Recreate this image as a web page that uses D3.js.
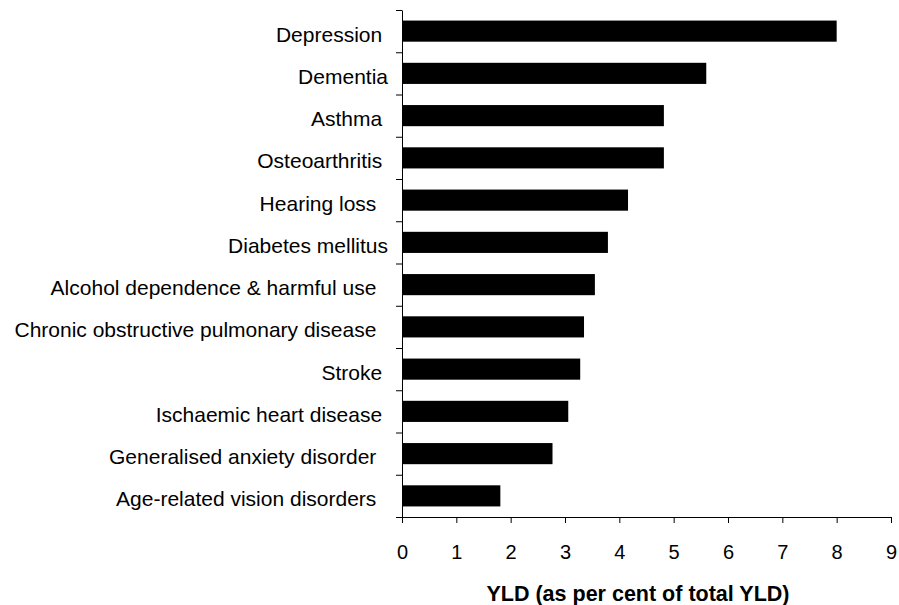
<!DOCTYPE html>
<html>
<head>
<meta charset="utf-8">
<script src="https://cdn.jsdelivr.net/npm/d3@7"></script>
<style>
  html, body { margin: 0; padding: 0; background: #fff; }
  svg { display: block; font-family: "Liberation Sans", Arial, sans-serif; }
  .cat text { white-space: pre; }
</style>
</head>
<body>
<svg id="chart" width="899" height="605"></svg>
<script>
// ---- Data ----
const categories = [
    "Depression ",
    "Dementia",
    "Asthma ",
    "Osteoarthritis ",
    "Hearing loss  ",
    "Diabetes mellitus",
    "Alcohol dependence & harmful use  ",
    "Chronic obstructive pulmonary disease  ",
    "Stroke ",
    "Ischaemic heart disease ",
    "Generalised anxiety disorder  ",
    "Age-related vision disorders  "
];
const yld = [8.0, 5.6, 4.82, 4.82, 4.16, 3.79, 3.55, 3.35, 3.28, 3.06, 2.77, 1.81];
const xTicks = [0, 1, 2, 3, 4, 5, 6, 7, 8, 9];
const xTitle = "YLD (as per cent of total YLD)";

// ---- Layout ----
const plotLeft = 402, plotRight = 891, plotTop = 10, plotBottom = 517;
const svg = d3.select("#chart");

const x = d3.scaleLinear().domain([0, 9]).range([plotLeft, plotRight]);
const y = d3.scaleBand()
    .domain(categories)
    .range([plotTop, plotBottom])
    .paddingInner(0.5)
    .paddingOuter(0.25);
// band boundaries, used for the category-axis tick marks
const yEdge = d3.scaleLinear().domain([0, categories.length]).range([plotTop, plotBottom]);

// ---- Bars ----
svg.append("g")
    .selectAll("rect")
    .data(categories)
    .join("rect")
    .attr("x", x(0))
    .attr("y", d => y(d))
    .attr("width", (d, i) => x(yld[i]) - x(0))
    .attr("height", y.bandwidth())
    .attr("fill", "#000");

// ---- Y axis: line + tick marks between bands ----
svg.append("g")
    .attr("transform", `translate(${plotLeft},0)`)
    .call(d3.axisLeft(yEdge)
        .tickValues(d3.range(categories.length + 1))
        .tickSize(6)
        .tickSizeOuter(0)
        .tickFormat(""))
    .call(g => g.selectAll("line, path").attr("stroke", "#000"));

// Category labels
svg.append("g")
    .classed("cat", true)
    .attr("transform", `translate(${plotLeft},0)`)
    .call(d3.axisLeft(y).tickSize(0).tickPadding(14))
    .call(g => g.select(".domain").remove())
    .call(g => g.selectAll("text")
        .attr("dy", "0.5em")
        .attr("fill", "#000")
        .style("font-size", "21px")
        .style("font-family", "'Liberation Sans', Arial, sans-serif"));

// ---- X axis ----
svg.append("g")
    .attr("transform", `translate(0,${plotBottom})`)
    .call(d3.axisBottom(x)
        .tickValues(xTicks)
        .tickSize(6)
        .tickSizeOuter(0)
        .tickFormat(d3.format("d")))
    .call(g => g.selectAll("line, path").attr("stroke", "#000"))
    .call(g => g.selectAll("text")
        .attr("y", 42)
        .attr("dy", 0)
        .attr("fill", "#000")
        .style("font-size", "20px")
        .style("font-family", "'Liberation Sans', Arial, sans-serif"));

// Axis title (sits a little left of the plot centre, as in the source)
svg.append("text")
    .attr("x", 638)
    .attr("y", 601)
    .attr("text-anchor", "middle")
    .style("font-size", "21.5px")
    .style("font-weight", "bold")
    .attr("fill", "#000")
    .text(xTitle);
</script>
</body>
</html>
